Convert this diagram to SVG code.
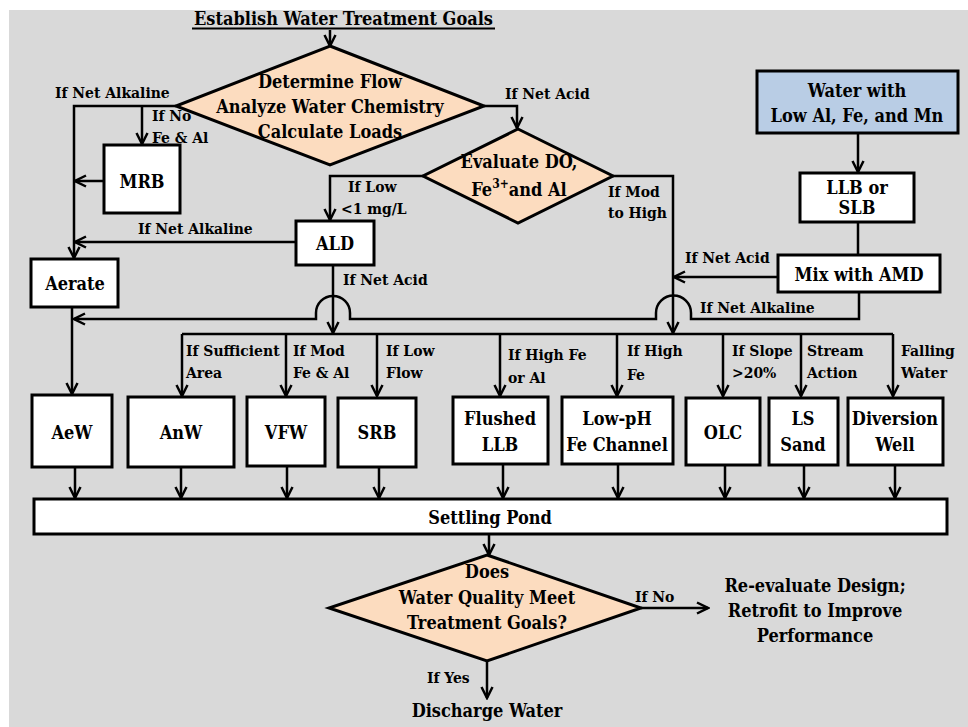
<svg xmlns="http://www.w3.org/2000/svg" width="968" height="727" viewBox="0 0 968 727">
<style>
.bg{fill:#d9d9d9}
.box{fill:#fff;stroke:#000;stroke-width:3}
.blue{fill:#b9cde5;stroke:#000;stroke-width:3}
.dia{fill:#fcdcbf;stroke:#000;stroke-width:3}
.ln{fill:none;stroke:#000;stroke-width:2.5}
.ar{fill:none;stroke:#000;stroke-width:2.5;marker-end:url(#ah)}
text{font-family:'DejaVu Serif Condensed','DejaVu Serif',serif;font-weight:700;fill:#000}
.t{font-size:18px;text-anchor:middle}
.lb{font-size:15.5px}
</style>
<defs>
<marker id="ah" markerUnits="userSpaceOnUse" markerWidth="16" markerHeight="16" viewBox="0 0 16 16" refX="14" refY="8" orient="auto">
<path d="M3,2.5 L14,8 L3,13.5" fill="none" stroke="#000" stroke-width="2.5"/>
</marker>
</defs>
<rect class="bg" x="9" y="10" width="959" height="717"/>

<g id="title">
<text class="t" x="343.5" y="25">Establish Water Treatment Goals</text>
<line x1="192" y1="28.5" x2="495" y2="28.5" stroke="#000" stroke-width="1.8"/>
</g>

<g id="connectors">
<path class="ar" d="M330,30 V46"/>
<path class="ar" d="M176,106 H74 V258"/>
<path class="ar" d="M142,106 V144"/>
<path class="ar" d="M104,181 H75"/>
<path class="ar" d="M484,106 H517 V128"/>
<path class="ar" d="M423,176 H330 V220"/>
<path class="ar" d="M296,242 H75"/>
<path class="ar" d="M333,265 V333"/>
<path class="ar" d="M613,176 H673 V333"/>
<path class="ar" d="M778,277 H674"/>
<path class="ar" d="M858,133 V172"/>
<path class="ln" d="M858,222 V255"/>
<path class="ar" d="M859,292 V319 H691 V313 A17.5,17.5 0 0 0 656,313 V319 H350 V313 A17,17 0 0 0 316,313 V319 H74"/>
<path class="ar" d="M72,307 V394"/>
<path class="ln" d="M182,334 H893"/>
<path class="ar" d="M182,334 V396"/>
<path class="ar" d="M286,334 V396"/>
<path class="ar" d="M377,334 V396"/>
<path class="ar" d="M500,334 V396"/>
<path class="ar" d="M617,334 V396"/>
<path class="ar" d="M723,334 V396"/>
<path class="ar" d="M801,334 V396"/>
<path class="ar" d="M893,334 V396"/>
<path class="ar" d="M75,467 V498"/>
<path class="ar" d="M181,467 V498"/>
<path class="ar" d="M287,467 V498"/>
<path class="ar" d="M379,467 V498"/>
<path class="ar" d="M503,465 V498"/>
<path class="ar" d="M618,465 V498"/>
<path class="ar" d="M725,465 V498"/>
<path class="ar" d="M804,465 V498"/>
<path class="ar" d="M895,465 V498"/>
<path class="ar" d="M489,534 V555"/>
<path class="ar" d="M641,608 H708"/>
<path class="ar" d="M487,661 V698"/>
</g>

<g id="labels">
<text class="lb" x="55" y="98">If Net Alkaline</text>
<text class="lb" x="152" y="121">If No</text>
<text class="lb" x="152" y="143">Fe &amp; Al</text>
<text class="lb" x="505" y="99">If Net Acid</text>
<text class="lb" x="348" y="192">If Low</text>
<text class="lb" x="341" y="214">&lt;1 mg/L</text>
<text class="lb" x="608" y="197">If Mod</text>
<text class="lb" x="608" y="218">to High</text>
<text class="lb" x="138" y="234">If Net Alkaline</text>
<text class="lb" x="343" y="285">If Net Acid</text>
<text class="lb" x="685" y="263">If Net Acid</text>
<text class="lb" x="700" y="313">If Net Alkaline</text>
<text class="lb" x="186" y="356">If Sufficient</text>
<text class="lb" x="186" y="378">Area</text>
<text class="lb" x="293" y="356">If Mod</text>
<text class="lb" x="293" y="378">Fe &amp; Al</text>
<text class="lb" x="386" y="356">If Low</text>
<text class="lb" x="386" y="378">Flow</text>
<text class="lb" x="508" y="360">If High Fe</text>
<text class="lb" x="508" y="383">or Al</text>
<text class="lb" x="627" y="356">If High</text>
<text class="lb" x="627" y="380">Fe</text>
<text class="lb" x="732" y="356">If Slope</text>
<text class="lb" x="732" y="378">&gt;20%</text>
<text class="lb" x="807" y="356">Stream</text>
<text class="lb" x="807" y="378">Action</text>
<text class="lb" x="901" y="356">Falling</text>
<text class="lb" x="901" y="378">Water</text>
<text class="lb" x="635" y="602">If No</text>
<text class="lb" x="427" y="683">If Yes</text>
</g>

<g id="d1">
<polygon class="dia" points="330,46 484,106 330,165 176,106"/>
<text class="t" x="330" y="88">Determine Flow</text>
<text class="t" x="330" y="113">Analyze Water Chemistry</text>
<text class="t" x="330" y="138">Calculate Loads</text>
</g>
<g id="mrb">
<rect class="box" x="104" y="145" width="76" height="68"/>
<text class="t" x="142" y="188">MRB</text>
</g>
<g id="d2">
<polygon class="dia" points="518,129 613,176 518,223 423,176"/>
<text class="t" x="519" y="168">Evaluate DO,</text>
<text class="t" x="519" y="196">Fe<tspan font-size="12" dy="-8">3+</tspan><tspan dy="8">and Al</tspan></text>
</g>
<g id="ald">
<rect class="box" x="296" y="221" width="78" height="44"/>
<text class="t" x="335" y="250">ALD</text>
</g>
<g id="aerate">
<rect class="box" x="31" y="259" width="87" height="48"/>
<text class="t" x="75" y="290">Aerate</text>
</g>
<g id="water">
<rect class="blue" x="757" y="71" width="201" height="62"/>
<text class="t" x="857" y="97">Water with</text>
<text class="t" x="857" y="122">Low Al, Fe, and Mn</text>
</g>
<g id="llb">
<rect class="box" x="800" y="173" width="114" height="49"/>
<text class="t" x="857" y="194">LLB or</text>
<text class="t" x="857" y="214">SLB</text>
</g>
<g id="mix">
<rect class="box" x="778" y="255" width="162" height="37"/>
<text class="t" x="859" y="281">Mix with AMD</text>
</g>
<g id="aew">
<rect class="box" x="32" y="395" width="80" height="72"/>
<text class="t" x="72" y="439">AeW</text>
</g>
<g id="anw">
<rect class="box" x="128" y="397" width="106" height="70"/>
<text class="t" x="181" y="439">AnW</text>
</g>
<g id="vfw">
<rect class="box" x="247" y="397" width="78" height="69"/>
<text class="t" x="286" y="439">VFW</text>
</g>
<g id="srb">
<rect class="box" x="338" y="398" width="78" height="69"/>
<text class="t" x="377" y="439">SRB</text>
</g>
<g id="flushed">
<rect class="box" x="453" y="397" width="95" height="67"/>
<text class="t" x="500" y="425">Flushed</text>
<text class="t" x="500" y="451">LLB</text>
</g>
<g id="lowph">
<rect class="box" x="562" y="397" width="111" height="67"/>
<text class="t" x="617" y="425">Low-pH</text>
<text class="t" x="617" y="451">Fe Channel</text>
</g>
<g id="olc">
<rect class="box" x="686" y="398" width="74" height="67"/>
<text class="t" x="723" y="439">OLC</text>
</g>
<g id="ls">
<rect class="box" x="769" y="398" width="69" height="67"/>
<text class="t" x="803" y="425">LS</text>
<text class="t" x="803" y="451">Sand</text>
</g>
<g id="diversion">
<rect class="box" x="848" y="398" width="95" height="67"/>
<text class="t" x="895" y="425">Diversion</text>
<text class="t" x="895" y="451">Well</text>
</g>
<g id="pond">
<rect class="box" x="34" y="499" width="913" height="35"/>
<text class="t" x="490" y="524">Settling Pond</text>
</g>
<g id="d3">
<polygon class="dia" points="487,555 641,608 487,661 329,608"/>
<text class="t" x="487" y="578">Does</text>
<text class="t" x="487" y="604">Water Quality Meet</text>
<text class="t" x="487" y="629">Treatment Goals?</text>
</g>
<g id="redo">
<text class="t" x="815" y="592">Re-evaluate Design;</text>
<text class="t" x="815" y="617">Retrofit to Improve</text>
<text class="t" x="815" y="642">Performance</text>
</g>
<g id="discharge">
<text class="t" x="487" y="717">Discharge Water</text>
</g>
</svg>
